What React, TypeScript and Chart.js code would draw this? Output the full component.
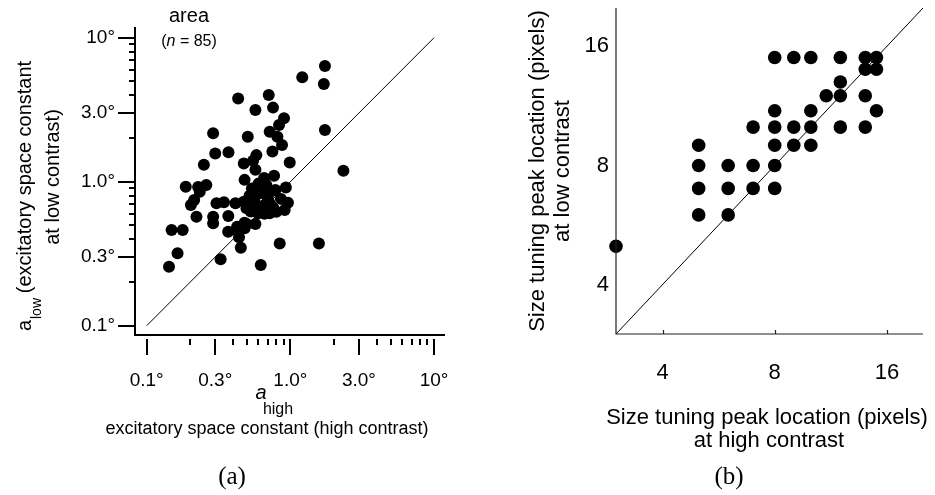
import React, { useEffect, useRef } from 'react';
import { Chart, registerables } from 'chart.js';

Chart.register(...registerables);

const SANS = '"Liberation Sans", Arial, Helvetica, sans-serif';
const SERIF = '"Liberation Serif", "Times New Roman", serif';

// ---------- Panel (a): excitatory space constant, high vs low contrast ----------
const areaHigh = [
  1.74, 1.21, 1.71, 0.433, 0.707, 0.571, 0.757, 0.903, 0.834, 1.74,
  0.29, 0.505, 0.718, 0.812, 0.875, 0.75, 0.3, 0.371, 0.58, 0.474,
  0.55, 0.99, 0.25, 2.34, 0.571, 0.656, 0.77, 0.48, 0.187, 0.228,
  0.26, 0.93, 0.787, 0.54, 0.612, 0.68, 0.203, 0.214, 0.234, 0.306,
  0.345, 0.415, 0.474, 0.495, 0.565, 0.612, 0.66, 0.718, 0.596, 0.718,
  0.8, 0.913, 0.962, 0.222, 0.29, 0.29, 0.37, 0.369, 0.422, 0.48,
  0.495, 0.571, 0.439, 0.452, 0.149, 0.178, 0.164, 0.143, 0.327, 0.622,
  0.843, 1.58, 0.48, 0.426, 0.52, 0.63, 0.7, 0.74, 0.56, 0.66,
  0.76, 0.6, 0.86, 0.53, 0.68,
];
const areaLow = [
  6.36, 5.31, 4.77, 3.79, 4.0, 3.15, 3.27, 2.76, 2.48, 2.29,
  2.17, 2.05, 2.22, 2.05, 1.8, 1.62, 1.57, 1.6, 1.53, 1.34,
  1.4, 1.36, 1.31, 1.19, 1.21, 1.06, 1.1, 1.03, 0.923, 0.92,
  0.95, 0.91, 0.876, 0.899, 0.83, 0.81, 0.69, 0.746, 0.852, 0.71,
  0.72, 0.71, 0.726, 0.653, 0.71, 0.67, 0.69, 0.71, 0.603, 0.603,
  0.619, 0.636, 0.715, 0.572, 0.572, 0.514, 0.578, 0.449, 0.462, 0.476,
  0.508, 0.508, 0.411, 0.348, 0.462, 0.462, 0.318, 0.257, 0.289, 0.264,
  0.373, 0.373, 0.519, 0.486, 0.8, 0.92, 0.75, 0.86, 0.76, 0.6,
  0.66, 0.97, 0.76, 0.62, 0.95,
];
const areaTicks = [0.1, 0.3, 1, 3, 10];
const areaTickLabels = ['0.1°', '0.3°', '1.0°', '3.0°', '10°'];
const areaMinorTicks = [0.2, 0.4, 0.5, 0.6, 0.7, 0.8, 0.9, 2, 4, 5, 6, 7, 8, 9];
const areaIdentity = [0.1, 10];
const areaXRange = [0.0829, 11.92];
const areaYRange = [0.0862, 11.87];

// ---------- Panel (b): size tuning peak location ----------
const peakHigh = [
  3,
  5, 6,
  5, 6, 7, 8,
  5, 6, 7, 8,
  5, 8, 9, 10,
  7, 8, 9, 10, 12, 14,
  8, 10, 15,
  11, 12, 14,
  12,
  14, 15,
  8, 9, 10, 12, 14, 15,
];
const peakLow = [
  5,
  6, 6,
  7, 7, 7, 7,
  8, 8, 8, 8,
  9, 9, 9, 9,
  10, 10, 10, 10, 10, 10,
  11, 11, 11,
  12, 12, 12,
  13,
  14, 14,
  15, 15, 15, 15, 15, 15,
];
const peakTicks = [4, 8, 16];
const peakTickLabels = ['4', '8', '16'];
const peakIdentity = [3, 20];
const peakRange = [3, 20];

function drawRich(ctx: CanvasRenderingContext2D, parts: { t: string; font: string }[], cx: number, cy: number) {
  let total = 0;
  for (const p of parts) { ctx.font = p.font; total += ctx.measureText(p.t).width; }
  let x = cx - total / 2;
  ctx.textAlign = 'left';
  ctx.textBaseline = 'middle';
  for (const p of parts) { ctx.font = p.font; ctx.fillText(p.t, x, cy); x += ctx.measureText(p.t).width; }
}

const panelAPlugin = {
  id: 'panelA',
  afterDraw(chart: any) {
    const { ctx, chartArea: ca, scales } = chart;
    const xs = scales.x, ys = scales.y;
    ctx.save();
    ctx.strokeStyle = '#000';
    ctx.lineWidth = 2;
    ctx.beginPath();
    ctx.moveTo(ca.left, ca.top);
    ctx.lineTo(ca.left, ca.bottom + 1);
    ctx.moveTo(ca.left - 1, ca.bottom);
    ctx.lineTo(ca.right, ca.bottom);
    for (const v of areaTicks) {
      const py = Math.round(ys.getPixelForValue(v));
      ctx.moveTo(ca.left - 17, py); ctx.lineTo(ca.left, py);
      const px = Math.round(xs.getPixelForValue(v));
      ctx.moveTo(px, ca.bottom + 4); ctx.lineTo(px, ca.bottom + 20);
    }
    for (const v of areaMinorTicks) {
      const py = Math.round(ys.getPixelForValue(v));
      ctx.moveTo(ca.left - 6, py); ctx.lineTo(ca.left, py);
      const px = Math.round(xs.getPixelForValue(v));
      ctx.moveTo(px, ca.bottom + 4); ctx.lineTo(px, ca.bottom + 10);
    }
    ctx.stroke();

    ctx.fillStyle = '#000';
    ctx.textAlign = 'center';
    ctx.textBaseline = 'middle';
    ctx.font = `20px ${SANS}`;
    ctx.fillText('area', 189, 16);
    drawRich(ctx, [
      { t: '(', font: `16px ${SANS}` },
      { t: 'n', font: `italic 16px ${SANS}` },
      { t: ' = 85)', font: `16px ${SANS}` },
    ], 189, 42);

    // x title
    ctx.textAlign = 'center';
    ctx.font = `italic 20px ${SANS}`;
    ctx.fillText('a', 261, 393);
    ctx.font = `16px ${SANS}`;
    ctx.fillText('high', 278, 410);
    ctx.font = `18px ${SANS}`;
    ctx.fillText('excitatory space constant (high contrast)', 267, 429);

    // y title
    ctx.save();
    ctx.translate(25, 177);
    ctx.rotate(-Math.PI / 2);
    ctx.font = `20px ${SANS}`;
    ctx.textAlign = 'center';
    ctx.fillText('(excitatory space constant', 0, 0);
    ctx.textAlign = 'right';
    ctx.font = `14px ${SANS}`;
    ctx.fillText('low', -121, 12);
    ctx.font = `20px ${SANS}`;
    ctx.fillText('a', -143, 0);
    ctx.restore();
    ctx.save();
    ctx.translate(53, 177);
    ctx.rotate(-Math.PI / 2);
    ctx.font = `20px ${SANS}`;
    ctx.textAlign = 'center';
    ctx.fillText('at low contrast)', 0, 0);
    ctx.restore();

    ctx.font = `25px ${SERIF}`;
    ctx.textAlign = 'center';
    ctx.fillText('(a)', 232, 477);
    ctx.restore();
  },
};

const panelBPlugin = {
  id: 'panelB',
  afterDraw(chart: any) {
    const { ctx, chartArea: ca, scales } = chart;
    const xs = scales.x;
    ctx.save();
    ctx.strokeStyle = '#222';
    ctx.lineWidth = 1.2;
    ctx.beginPath();
    ctx.moveTo(ca.left, ca.top);
    ctx.lineTo(ca.left, ca.bottom);
    ctx.lineTo(ca.right, ca.bottom);
    for (const v of peakTicks) {
      const px = Math.round(xs.getPixelForValue(v)) + 0.5;
      ctx.moveTo(px, ca.bottom); ctx.lineTo(px, ca.bottom - 4);
    }
    ctx.stroke();

    ctx.fillStyle = '#000';
    ctx.textAlign = 'center';
    ctx.textBaseline = 'middle';
    ctx.font = `22px ${SANS}`;
    ctx.fillText('Size tuning peak location (pixels)', 300, 418);
    ctx.fillText('at high contrast', 302, 441);

    ctx.save();
    ctx.translate(71, 171);
    ctx.rotate(-Math.PI / 2);
    ctx.fillText('Size tuning peak location (pixels)', 0, 0);
    ctx.restore();
    ctx.save();
    ctx.translate(96, 171);
    ctx.rotate(-Math.PI / 2);
    ctx.fillText('at low contrast', 0, 0);
    ctx.restore();

    ctx.font = `25px ${SERIF}`;
    ctx.fillText('(b)', 262, 477);
    ctx.restore();
  },
};

function logAxis(range: number[], ticks: number[], labels: string[], fontSize: number, padding: number, fit: (s: any) => void) {
  return {
    type: 'logarithmic' as const,
    min: range[0],
    max: range[1],
    afterBuildTicks: (s: any) => { s.ticks = ticks.map((v) => ({ value: v })); },
    afterFit: (s: any) => {
      fit(s);
      s.paddingLeft = 0;
      s.paddingRight = 0;
      s.paddingTop = 0;
      s.paddingBottom = 0;
    },
    ticks: {
      autoSkip: false,
      maxRotation: 0,
      padding,
      color: '#000',
      font: { family: SANS, size: fontSize },
      callback: (_v: any, i: number) => labels[i],
    },
    grid: { display: false, drawTicks: false },
    border: { display: false },
  };
}

export default function App() {
  const refA = useRef<HTMLCanvasElement>(null);
  const refB = useRef<HTMLCanvasElement>(null);

  useEffect(() => {
    const chartA = new Chart(refA.current!, {
      type: 'scatter',
      data: {
        datasets: [
          {
            data: areaIdentity.map((v) => ({ x: v, y: v })),
            showLine: true,
            borderColor: '#000',
            borderWidth: 1,
            pointRadius: 0,
          },
          {
            data: areaHigh.map((x, i) => ({ x, y: areaLow[i] })),
            backgroundColor: '#000',
            borderWidth: 0,
            pointRadius: 6,
            clip: false,
          },
        ],
      },
      options: {
        responsive: false,
        animation: false,
        devicePixelRatio: 1,
        layout: { padding: { left: 0, right: 22, top: 27, bottom: 0 } },
        plugins: { legend: { display: false }, tooltip: { enabled: false } },
        scales: {
          x: logAxis(areaXRange, areaTicks, areaTickLabels, 19, 34, (s: any) => { s.height = 160; }),
          y: logAxis(areaYRange, areaTicks, areaTickLabels, 19, 20, (s: any) => { s.width = 135; }),
        },
      },
      plugins: [panelAPlugin],
    } as any);

    const chartB = new Chart(refB.current!, {
      type: 'scatter',
      data: {
        datasets: [
          {
            data: peakIdentity.map((v) => ({ x: v, y: v })),
            showLine: true,
            borderColor: '#000',
            borderWidth: 1,
            pointRadius: 0,
          },
          {
            data: peakHigh.map((x, i) => ({ x, y: peakLow[i] })),
            backgroundColor: '#000',
            borderWidth: 0,
            pointRadius: 6.8,
            clip: false,
          },
        ],
      },
      options: {
        responsive: false,
        animation: false,
        devicePixelRatio: 1,
        layout: { padding: { left: 0, right: 12, top: 8, bottom: 0 } },
        plugins: { legend: { display: false }, tooltip: { enabled: false } },
        scales: {
          x: logAxis(peakRange, peakTicks, peakTickLabels, 22, 26, (s: any) => { s.height = 161; }),
          y: logAxis(peakRange, peakTicks, peakTickLabels, 22, 7, (s: any) => { s.width = 149; }),
        },
      },
      plugins: [panelBPlugin],
    } as any);

    return () => {
      chartA.destroy();
      chartB.destroy();
    };
  }, []);

  return (
    <div style={{ position: 'fixed', left: 0, top: 0, width: 935, height: 495, background: '#fff' }}>
      <canvas ref={refA} width={467} height={495} style={{ position: 'absolute', left: 0, top: 0 }} />
      <canvas ref={refB} width={468} height={495} style={{ position: 'absolute', left: 467, top: 0 }} />
    </div>
  );
}
